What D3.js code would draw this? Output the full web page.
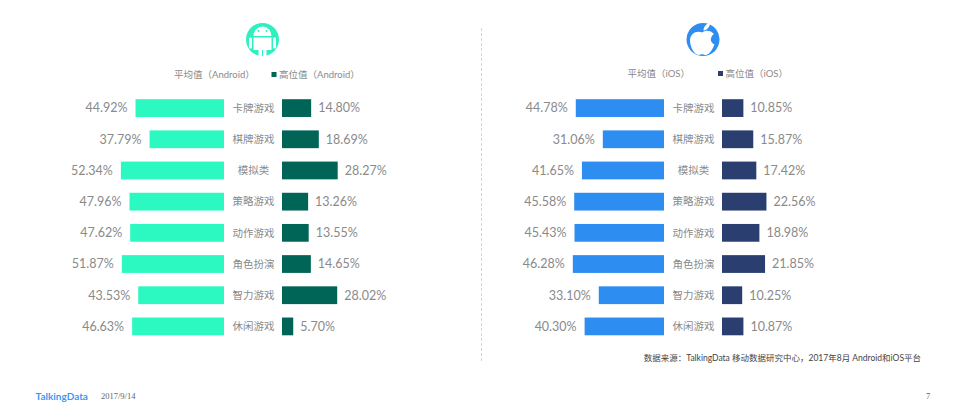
<!DOCTYPE html>
<html><head><meta charset="utf-8">
<script src="https://cdn.jsdelivr.net/npm/d3@7/dist/d3.min.js"></script>
<style>
html,body{margin:0;padding:0;background:#fff;overflow:hidden}
text{font-family:Lato,"Noto Sans CJK SC",sans-serif}
</style></head><body><svg id="c" width="965" height="420"></svg>
<script>
const categories = ["卡牌游戏","棋牌游戏","模拟类","策略游戏","动作游戏","角色扮演","智力游戏","休闲游戏"];
const androidAvg = [44.92,37.79,52.34,47.96,47.62,51.87,43.53,46.63];
const androidHigh = [14.80,18.69,28.27,13.26,13.55,14.65,28.02,5.70];
const iosAvg = [44.78,31.06,41.65,45.58,45.43,46.28,33.10,40.30];
const iosHigh = [10.85,15.87,17.42,22.56,18.98,21.85,10.25,10.87];
const legendAndroid = ["平均值（Android）","高位值（Android）"];
const legendIos = ["平均值（iOS）","高位值（iOS）"];
const sourceNote = "数据来源：TalkingData 移动数据研究中心，2017年8月 Android和iOS平台";
const brand = "TalkingData", dateLabel = "2017/9/14", pageNo = "7";

const svg = d3.select("#c");
const y = d3.scaleBand().domain(categories).range([92.5,342]).paddingInner(0.43).paddingOuter(0.215);
const w = d3.scaleLinear().domain([0,100]).range([0,197]);
const grey = "#8a8a8a";

function panel(cfg){
  const g = svg.append("g");
  g.selectAll("rect.a").data(categories).join("rect").attr("class","a")
    .attr("x",(d,i)=>cfg.leftEnd-w(cfg.avg[i])).attr("y",d=>y(d))
    .attr("width",(d,i)=>w(cfg.avg[i])).attr("height",y.bandwidth()).attr("fill",cfg.c1);
  g.selectAll("rect.h").data(categories).join("rect").attr("class","h")
    .attr("x",cfg.rightStart).attr("y",d=>y(d))
    .attr("width",(d,i)=>w(cfg.high[i])).attr("height",y.bandwidth()).attr("fill",cfg.c2);
  const cy = d=>y(d)+y.bandwidth()/2;
  g.selectAll("text.av").data(categories).join("text").attr("class","av")
    .attr("x",(d,i)=>cfg.leftEnd-w(cfg.avg[i])-8).attr("y",cy).attr("dy","0.35em")
    .attr("text-anchor","end").attr("font-size",12.5).attr("fill",grey)
    .text((d,i)=>cfg.avg[i].toFixed(2)+"%");
  g.selectAll("text.hv").data(categories).join("text").attr("class","hv")
    .attr("x",(d,i)=>cfg.rightStart+w(cfg.high[i])+7).attr("y",cy).attr("dy","0.35em")
    .attr("font-size",12.5).attr("fill",grey)
    .text((d,i)=>cfg.high[i].toFixed(2)+"%");
  g.selectAll("text.cat").data(categories).join("text").attr("class","cat")
    .attr("x",(cfg.leftEnd+cfg.rightStart)/2+0.5).attr("y",cy).attr("dy","0.35em")
    .attr("text-anchor","middle").attr("font-size",10.5).attr("fill",grey)
    .text(d=>d);
  g.append("text").attr("x",cfg.l1x).attr("y",cfg.ly).attr("dy","0.35em").attr("font-size",9.5).attr("fill",grey).text(cfg.legend[0]);
  g.append("rect").attr("x",cfg.swx).attr("y",cfg.ly-2.5).attr("width",5).attr("height",5).attr("fill",cfg.c2);
  g.append("text").attr("x",cfg.swx+7.5).attr("y",cfg.ly).attr("dy","0.35em").attr("font-size",9.5).attr("fill",grey).text(cfg.legend[1]);
}
panel({avg:androidAvg,high:androidHigh,c1:"#2cf9c1",c2:"#006557",leftEnd:224,rightStart:282,legend:legendAndroid,l1x:174,swx:271.5,ly:74.5});
panel({avg:iosAvg,high:iosHigh,c1:"#2d8df0",c2:"#2a3f6f",leftEnd:664,rightStart:722,legend:legendIos,l1x:627.5,swx:718,ly:73.5});

// divider
svg.append("line").attr("x1",481.5).attr("x2",481.5).attr("y1",28).attr("y2",361)
  .attr("stroke","#d5d5d5").attr("stroke-width",1).attr("stroke-dasharray","3 2");

// android icon
const ai = svg.append("g").attr("transform","translate(262.5,39.5)");
ai.append("circle").attr("r",16.5).attr("fill","#2cf0bd");
ai.append("path").attr("fill","#fff").attr("d","M-9,-3.5 A9,9.5 0 0 1 9,-3.5 Z");
ai.append("circle").attr("cx",-4).attr("cy",-8.5).attr("r",1).attr("fill","#2cf0bd");
ai.append("circle").attr("cx",4).attr("cy",-8.5).attr("r",1).attr("fill","#2cf0bd");
ai.append("rect").attr("x",-9).attr("y",-2).attr("width",18).attr("height",12.5).attr("fill","#fff");
ai.append("rect").attr("x",-4).attr("y",9).attr("width",3.5).attr("height",7.5).attr("fill","#fff");
ai.append("rect").attr("x",0.5).attr("y",9).attr("width",3.5).attr("height",7.5).attr("fill","#fff");
ai.append("rect").attr("x",-13.5).attr("y",-2).attr("width",3).attr("height",11).attr("rx",1.2).attr("fill","#fff");
ai.append("rect").attr("x",10.5).attr("y",-2).attr("width",3).attr("height",11).attr("rx",1.2).attr("fill","#fff");

// apple icon
const ap = svg.append("g").attr("transform","translate(703,39.5)");
ap.append("circle").attr("r",16.5).attr("fill","#2d8df0");
ap.append("path").attr("fill","#fff").attr("d","M-1,-7 C3,-10 8,-9 11,-5.5 C7,-3 6.5,3 11.5,5 C9.5,10 6,16 2,15.5 C0,14.5 -2,14.5 -4,15.5 C-9,15.5 -13,7 -13,1 C-13,-6 -6,-9.5 -1,-7 Z");
ap.append("path").attr("fill","#fff").attr("d","M0.5,-9 C0.5,-13 3.5,-16 7,-16.5 C7,-12.5 4,-9.5 0.5,-9 Z");

// footer
svg.append("text").attr("x",921).attr("y",358).attr("dy","0.35em").attr("text-anchor","end").attr("font-size",8.5).attr("fill","#444").text(sourceNote);
svg.append("text").attr("x",35.5).attr("y",396).attr("dy","0.35em").attr("font-size",10).attr("font-weight",700).attr("fill","#3f97f5").text(brand);
svg.append("text").attr("x",101).attr("y",396.5).attr("dy","0.35em").attr("font-size",8.5).attr("fill","#666").style("font-family","'Liberation Serif',serif").text(dateLabel);
svg.append("text").attr("x",928).attr("y",396.5).attr("dy","0.35em").attr("text-anchor","middle").attr("font-size",8.5).attr("fill","#666").style("font-family","'Liberation Serif',serif").text(pageNo);
</script></body></html>
